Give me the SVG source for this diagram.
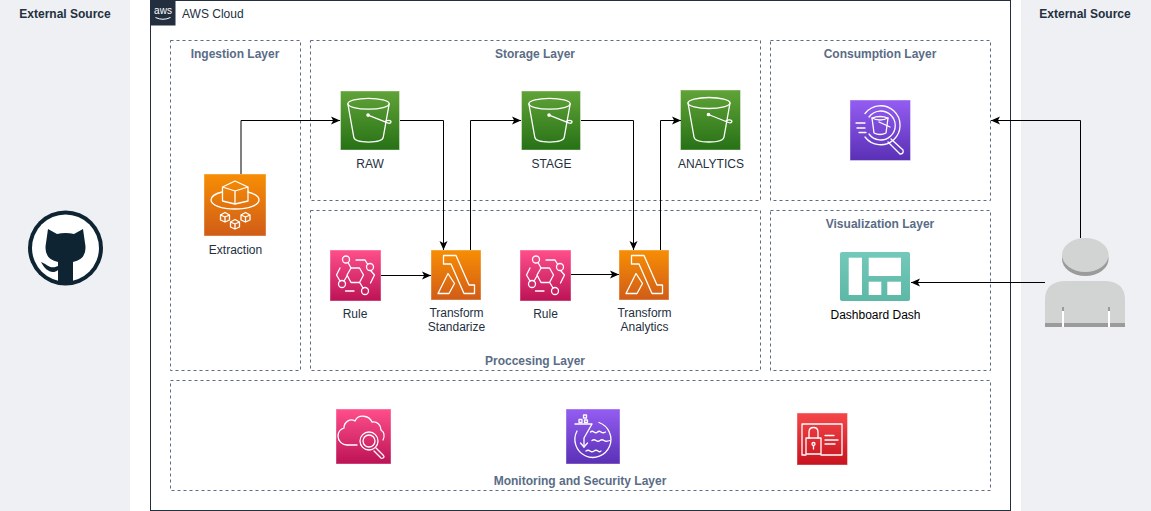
<svg xmlns="http://www.w3.org/2000/svg" width="1151" height="511" viewBox="0 0 1151 511">
<style>
text{font-family:"Liberation Sans",Arial,sans-serif;font-size:12px;fill:#232F3E;text-anchor:middle}
.b{font-weight:bold}
.layer{fill:#fff;stroke:#5A6C86;stroke-dasharray:3 3}
.lt{font-weight:bold;fill:#5A6C86}
.edge{fill:none;stroke:#000;marker-end:url(#arr)}
.icon{stroke:#fff;stroke-opacity:.4}
.g{fill:none;stroke:#fff;stroke-width:1.3;stroke-linejoin:round;stroke-linecap:round}
</style>
<defs>
<linearGradient id="orange" x1="0" y1="0" x2="0" y2="1"><stop offset="0" stop-color="#F78E04"/><stop offset="1" stop-color="#D05C17"/></linearGradient>
<linearGradient id="green" x1="0" y1="0" x2="0" y2="1"><stop offset="0" stop-color="#60A337"/><stop offset="1" stop-color="#277116"/></linearGradient>
<linearGradient id="pink" x1="0" y1="0" x2="0" y2="1"><stop offset="0" stop-color="#FF4F8B"/><stop offset="1" stop-color="#BC1356"/></linearGradient>
<linearGradient id="purple" x1="0" y1="0" x2="0" y2="1"><stop offset="0" stop-color="#945DF2"/><stop offset="1" stop-color="#5A30B5"/></linearGradient>
<linearGradient id="red" x1="0" y1="0" x2="0" y2="1"><stop offset="0" stop-color="#F54749"/><stop offset="1" stop-color="#C7131F"/></linearGradient>
<linearGradient id="teal" x1="0" y1="0" x2="0" y2="1"><stop offset="0" stop-color="#73C9BA"/><stop offset="1" stop-color="#5DB8A6"/></linearGradient>
<marker id="arr" markerUnits="userSpaceOnUse" markerWidth="10" markerHeight="10" refX="9" refY="4.5" orient="auto"><path d="M0 0.5L9 4.5L0 8.5L2.2 4.5Z" fill="#000"/></marker>
<symbol id="bucket" viewBox="0 0 60 60" overflow="visible">
<rect class="icon" width="60" height="60" fill="url(#green)"/>
<g class="g"><ellipse cx="28.500" cy="13" rx="21" ry="5.500"/><path d="M7.500 13L13.500 47C14 50 20 52 28.500 52S43 50 43.500 47L49.500 13"/><path d="M28 24.500L48 32.500C51 33.500 52 31.500 51 30.500S47 29.500 45.500 31"/><circle cx="28" cy="24.500" r="1.200" fill="#fff"/></g>
</symbol>
<symbol id="lambda" viewBox="0 0 50 50" overflow="visible">
<rect class="icon" width="50" height="50" fill="url(#orange)"/>
<g class="g"><path d="M12.500 5.500H25L38 35H43.500V43.500H33L20 14H12.500Z"/><path d="M7 43.500L17 23.500L23.500 33.500L18 43.500Z"/></g>
</symbol>
<symbol id="rule" viewBox="0 0 51 51" overflow="visible">
<rect class="icon" width="51" height="51" fill="url(#pink)"/>
<g class="g"><path d="M17 25L21 18H29.500L33.500 25L29.500 32.500H21Z"/><circle cx="16" cy="9.500" r="3.500"/><circle cx="40" cy="17" r="3.500"/><circle cx="12" cy="34" r="3.500"/><circle cx="35" cy="41" r="3.500"/><path d="M18 12.500L21 18M14 31L17 26M30 33L33 38M26 10H35L37.500 14M41 21L44.500 25L40.500 33M10 18L6.500 25L10 31M15.500 41H24"/></g>
</symbol>
</defs>

<g id="external-left"><rect x="0" y="0" width="130" height="511" fill="#EFF0F3"/><text class="b" x="65" y="18">External Source</text></g>
<g id="external-right"><rect x="1021" y="0" width="130" height="511" fill="#EFF0F3"/><text class="b" x="1085" y="18">External Source</text></g>

<g id="aws-cloud">
<rect x="150.500" y="0.500" width="860" height="510" fill="#fff" stroke="#232F3E"/>
<rect x="150" y="0" width="25.500" height="25.500" fill="#232F3E"/>
<text x="163" y="14" style="font-size:10px;fill:#fff">aws</text>
<path d="M155.500 17.500Q163 21 170.500 17.500" fill="none" stroke="#fff"/>
<text x="182" y="18" style="text-anchor:start">AWS Cloud</text>
</g>

<g id="ingestion-layer"><rect class="layer" x="170.500" y="40.500" width="130" height="330"/><text class="lt" x="235" y="58">Ingestion Layer</text></g>
<g id="storage-layer"><rect class="layer" x="310.500" y="40.500" width="450" height="160"/><text class="lt" x="535" y="58">Storage Layer</text></g>
<g id="consumption-layer"><rect class="layer" x="770.500" y="40.500" width="220" height="160"/><text class="lt" x="880" y="58">Consumption Layer</text></g>
<g id="processing-layer"><rect class="layer" x="310.500" y="210.500" width="450" height="160"/><text class="lt" x="535" y="365">Proccesing Layer</text></g>
<g id="visualization-layer"><rect class="layer" x="770.500" y="210.500" width="220" height="160"/><text class="lt" x="880" y="228">Visualization Layer</text></g>
<g id="monitoring-layer"><rect class="layer" x="170.500" y="380.500" width="820" height="110"/><text class="lt" x="580" y="485">Monitoring and Security Layer</text></g>

<g id="github">
<circle cx="65.500" cy="248" r="37.500" fill="#0E2433"/>
<circle cx="65.500" cy="248" r="33.500" fill="#fff"/>
<path d="M48 229L57 234Q65.500 232 74 234L83 229L85 243Q88 259 73 262V284H58V270C52 275 45 270 41 262C47 264 50 270 58 266V262Q43 259 46 243Z" fill="#0E2433"/>
</g>

<g id="extraction">
<rect class="icon" x="204" y="174" width="62" height="62" fill="url(#orange)"/>
<g class="g" transform="translate(204 174)"><path d="M18.500 13L31 7L44 13V27L31 30L18.500 27ZM18.500 13L31 17L44 13M31 17V30"/><path d="M18 18C10 20 7 23 7 26C7 31 17 35 31 35S55 31 55 26C55 23 52 20 44 18"/><path d="M16.500 41L21 38.500L25.500 41V46L21 48L16.500 46ZM16.500 41L21 43L25.500 41M21 43V48"/><path d="M26.500 48L31 45.500L35.500 48V53L31 55L26.500 53ZM26.500 48L31 50L35.500 48M31 50V55"/><path d="M37 41L41.500 38.500L46 41V46L41.500 48L37 46ZM37 41L41.500 43L46 41M41.500 43V48"/></g>
<text x="235.500" y="254">Extraction</text>
</g>

<g id="raw"><use href="#bucket" x="340" y="91" width="60" height="59"/><text x="370" y="168">RAW</text></g>
<g id="stage"><use href="#bucket" x="521" y="91" width="60" height="59"/><text x="551.500" y="168">STAGE</text></g>
<g id="analytics"><use href="#bucket" x="680.500" y="90" width="60" height="60"/><text x="711" y="168">ANALYTICS</text></g>

<g id="rule-1"><use href="#rule" x="330" y="250" width="51" height="51"/><text x="355" y="318">Rule</text></g>
<g id="transform-standarize"><use href="#lambda" x="431" y="250" width="50" height="50"/><text x="456.500" y="317">Transform</text><text x="456.500" y="331">Standarize</text></g>
<g id="rule-2"><use href="#rule" x="520" y="250" width="51" height="51"/><text x="545.500" y="318">Rule</text></g>
<g id="transform-analytics"><use href="#lambda" x="619" y="250" width="50" height="50"/><text x="644.500" y="317">Transform</text><text x="644.500" y="331">Analytics</text></g>

<g id="athena">
<rect class="icon" x="850" y="100" width="60.500" height="60.500" fill="url(#purple)"/>
<g class="g" transform="translate(850 100)"><path d="M15 13.500A19.500 19.500 0 1 1 15 37"/><path d="M19 17A14.500 14.500 0 1 1 19 34"/><path d="M6 23H15M7 28H15M9 32.500H16"/><path d="M22 18Q30 15 38 18L36 33Q30 36 24 33Z"/><path d="M22 18Q30 22 38 18M29 22L40 27"/><path d="M41 39L53 50Q54 54 50 54L38 42"/></g>
</g>

<g id="dashboard">
<rect x="840" y="252" width="70" height="49" rx="2" fill="url(#teal)"/>
<rect x="848.700" y="257.700" width="13.300" height="37.300" fill="#fff"/>
<rect x="868.700" y="257.700" width="32.300" height="18.300" fill="#fff"/>
<rect x="868.700" y="281.700" width="12.600" height="13.300" fill="#fff"/>
<rect x="887.300" y="281.700" width="13.700" height="13.300" fill="#fff"/>
<text x="875.500" y="319" style="fill:#000">Dashboard Dash</text>
</g>

<g id="user">
<ellipse cx="1085.300" cy="259" rx="23.300" ry="17" fill="#9B9B9B"/>
<ellipse cx="1085.300" cy="255" rx="23.300" ry="17" fill="#D2D3D3"/>
<path d="M1045 327V300Q1045 281 1066 281H1104Q1125 281 1125 300V327Z" fill="#D2D3D3"/>
<rect x="1045" y="323" width="80" height="4" fill="#9B9B9B"/>
<rect x="1062" y="307" width="2" height="20" fill="#fff"/>
<rect x="1062" y="307" width="2" height="4" fill="#9B9B9B"/>
<rect x="1108" y="307" width="2" height="20" fill="#fff"/>
<rect x="1108" y="307" width="2" height="4" fill="#9B9B9B"/>
</g>

<g id="cloudwatch">
<rect class="icon" x="336" y="409" width="55" height="55" fill="url(#pink)"/>
<g class="g" transform="translate(336 409)"><path d="M21 36H11C6 36 2 32 2 27C2 23 5 20 8 19C8 13 14 9 19 12C22 5 33 6 36 13C41 12 45 16 45 21C48 23 49 27 47 31"/><circle cx="33" cy="32" r="9"/><circle cx="33" cy="32" r="6"/><path d="M40 39L47 46Q49 48 47 49Q45 50 44 48L38 42"/></g>
</g>
<g id="lake-formation">
<rect class="icon" x="566" y="409" width="54" height="55" fill="url(#purple)"/>
<g class="g" transform="translate(566 409)"><path d="M9 15H26L18 29V38"/><path d="M14.500 34L18 38L21.500 34"/><rect x="17.500" y="6" width="3" height="3"/><rect x="18.500" y="11" width="3" height="2.500"/><rect x="13" y="10.500" width="3" height="3"/><path d="M11 22A18 18 0 1 0 33 13.500"/><path d="M24.500 23Q26 21.500 28 23T31.500 23T35 23T39.500 23M26 31.500Q28 30 30 31.500T34 31.500T38 31.500T44 31.500M20 42Q22 40.500 24 42T28 42T32 42T35 42"/></g>
</g>
<g id="secrets">
<rect class="icon" x="797" y="413" width="50.500" height="52" fill="url(#red)"/>
<g class="g" transform="translate(797 413)"><path d="M9 42H5V11H45V42H24"/><rect x="9" y="25" width="15" height="16"/><path d="M12 25V19C12 13 21 13 21 19V25"/><circle cx="16.500" cy="31" r="1.500"/><path d="M16.500 32.500V36M28 22.500H37M28 27H41M28 31H38"/></g>
</g>

<g id="connectors">
<path class="edge" d="M241 174V120.500H340"/>
<path class="edge" d="M400 120.500H443.500V250"/>
<path class="edge" d="M470.500 250V120.500H521"/>
<path class="edge" d="M581 120.500H633.500V250"/>
<path class="edge" d="M660.500 250V120.500H681"/>
<path class="edge" d="M381 275.500H431"/>
<path class="edge" d="M571 274.500H619"/>
<path class="edge" d="M1080.500 238V120.500H991"/>
<path class="edge" d="M1045 282.500H911"/>
</g>
</svg>
